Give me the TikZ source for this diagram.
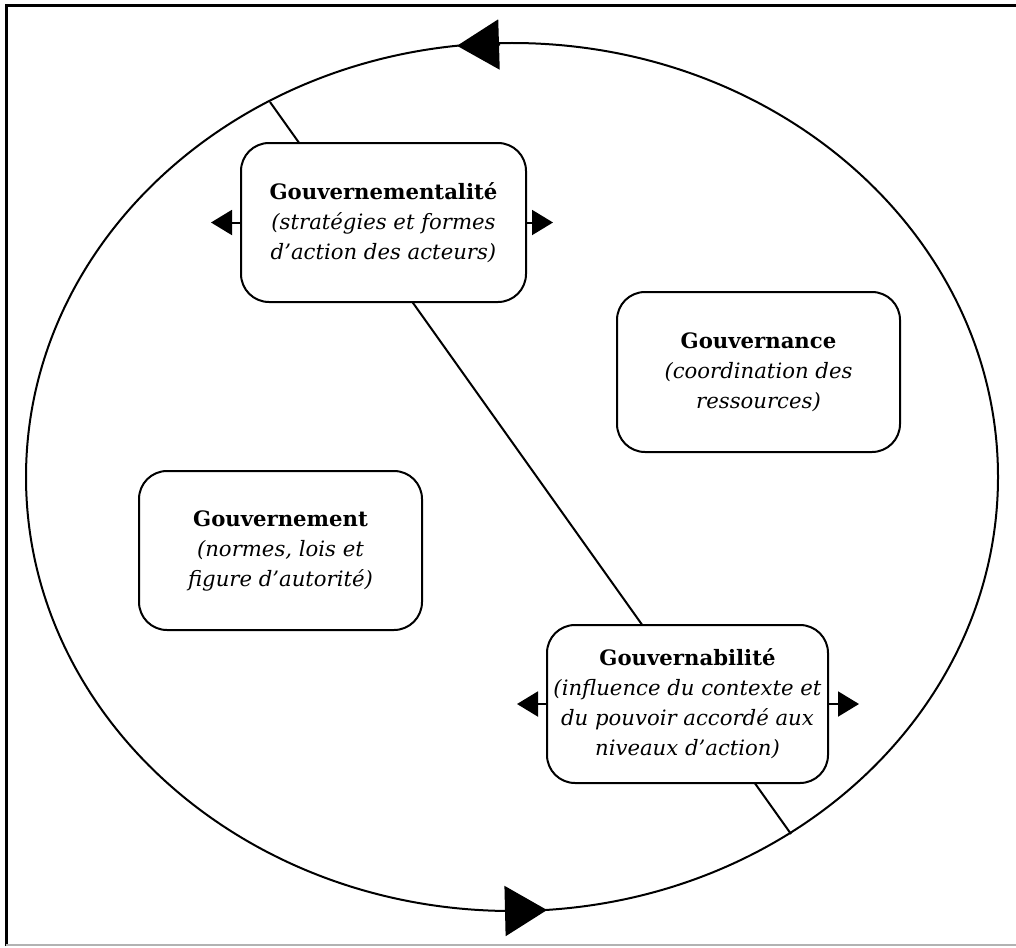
\documentclass[tikz,border=0pt]{standalone}
\usepackage{fontspec}
\setmainfont{DejaVu Serif}
\usetikzlibrary{arrows.meta}
\begin{document}
\begin{tikzpicture}[x=1pt,y=-1pt,
  box/.style={draw, line width=2pt, rounded corners=28pt, fill=white,
    align=center, inner sep=0pt, font=\fontsize{21.2}{30}\selectfont},
  sidearrow/.style={line width=2pt, -{Triangle[length=21pt,width=25pt]}},
  bigarrow/.style={line width=2pt, -{Triangle[length=42pt,width=50pt]}},
  curve/.style={line width=2pt}]
\useasboundingbox (0,0) rectangle (1016,947);
% frame
\draw[line width=3pt] (6,946) -- (6,6) -- (1016,6);
\draw[gray!60, line width=2pt] (6,945) -- (1016,945);
% cycle
\draw[curve] (512,477) ellipse [x radius=486, y radius=434];
\draw[bigarrow] (500,44.5) -- (457,45.8);
\draw[bigarrow] (505,911) -- (547,910);
% diagonal
\coordinate (dtop) at (270,102);
\coordinate (dbot) at (791,834);
\draw[curve] (dtop) -- (dbot);
% boxes
\node[box, minimum width=285pt, minimum height=159pt] (g1) at (383.5,222.5)
  {\textbf{Gouvernementalité}\\\textit{(stratégies et formes}\\\textit{d’action des acteurs)}};
\node[box, minimum width=283pt, minimum height=160pt] (g2) at (758.5,372)
  {\textbf{Gouvernance}\\\textit{(coordination des}\\\textit{ressources)}};
\node[box, minimum width=283pt, minimum height=159pt] (g3) at (280.5,550.5)
  {\textbf{Gouvernement}\\\textit{(normes, lois et}\\\textit{figure d’autorité)}};
\node[box, minimum width=281pt, minimum height=158pt] (g4) at (687.5,704)
  {\textbf{Gouvernabilité}\\\textit{(influence du contexte et}\\\textit{du pouvoir accordé aux}\\\textit{niveaux d’action)}};
% side arrows
\draw[sidearrow] (g1.west) -- ++(-29,0);
\draw[sidearrow] (g1.east) -- ++(26,0);
\draw[sidearrow] (g4.west) -- ++(-29,0);
\draw[sidearrow] (g4.east) -- ++(30,0);
\end{tikzpicture}
\end{document}
